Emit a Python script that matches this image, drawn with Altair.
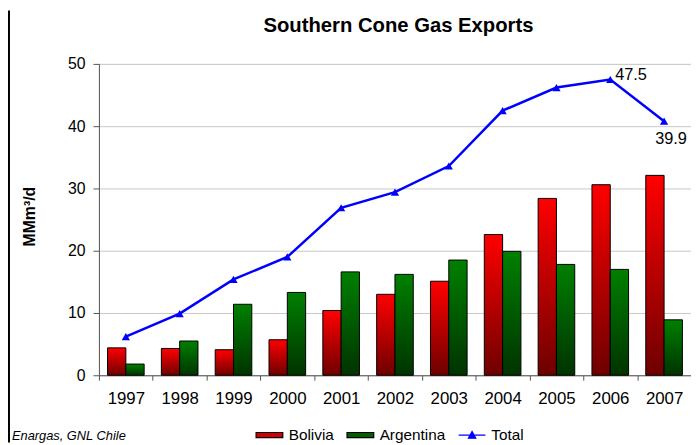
import altair as alt
import pandas as pd

# ---- data ----
years = ["1997", "1998", "1999", "2000", "2001", "2002", "2003", "2004", "2005", "2006", "2007"]
bolivia = [4.4, 4.3, 4.1, 5.7, 10.4, 13.0, 15.1, 22.6, 28.4, 30.6, 32.1]
argentina = [1.8, 5.5, 11.4, 13.3, 16.6, 16.2, 18.5, 19.9, 17.8, 17.0, 8.9]
total = [6.2, 9.9, 15.4, 19.0, 26.9, 29.4, 33.6, 42.5, 46.2, 47.5, 40.8]
series = ["Bolivia", "Argentina", "Total"]
label_years = ["2006", "2007"]
label_values = [47.5, 40.8]
label_texts = ["47.5", "39.9"]
title_text = ["Southern Cone Gas Exports"]
source_note = ["Enargas, GNL Chile"]
y_ticks = [0, 10, 20, 30, 40, 50]

FONT = "Liberation Sans"

bars_df = pd.DataFrame({
    "year": years * 2,
    "series": ["Bolivia"] * len(years) + ["Argentina"] * len(years),
    "value": bolivia + argentina,
})
total_df = pd.DataFrame({"year": years, "value": total})
legend_df = pd.DataFrame({"series": series})

x_enc = alt.X(
    "year:O",
    scale=alt.Scale(domain=years, paddingInner=0, paddingOuter=0),
    axis=alt.Axis(
        title=None, labelAngle=0, tickBand="extent", labelFontSize=17, labelFont=FONT,
        labelColor="black", labelPadding=11, tickSize=5, tickColor="#555555",
        domainColor="#555555", grid=False, labelOverlap=False,
    ),
)
y_enc = alt.Y(
    "value:Q",
    scale=alt.Scale(domain=[0, 50], nice=False),
    axis=alt.Axis(
        title="MMm³/d", values=y_ticks, labelFontSize=16, labelFont=FONT, labelColor="black",
        labelPadding=8, tickSize=6, tickColor="#555555", domainColor="#555555",
        grid=True, gridColor="#c8c8c8", gridWidth=1,
        titleFont=FONT, titleFontSize=16, titleFontWeight="bold", titleColor="black",
        titleAngle=270, titleX=-70, titleY=154, titleAlign="center", titleBaseline="middle",
    ),
)
xoff = alt.XOffset("series:N", scale=alt.Scale(domain=["Bolivia", "Argentina"], paddingOuter=0.47, paddingInner=0))

red_grad = alt.LinearGradient(
    gradient="linear", x1=0, x2=0, y1=0, y2=1,
    stops=[alt.GradientStop(color="#ff0000", offset=0), alt.GradientStop(color="#6e0000", offset=1)],
)
green_grad = alt.LinearGradient(
    gradient="linear", x1=0, x2=0, y1=0, y2=1,
    stops=[alt.GradientStop(color="#008000", offset=0), alt.GradientStop(color="#003300", offset=1)],
)

bol_bars = alt.Chart(bars_df).transform_filter(alt.datum.series == "Bolivia").mark_bar(
    fill=red_grad, stroke="black", strokeWidth=1
).encode(x=x_enc, y=y_enc, xOffset=xoff)

arg_bars = alt.Chart(bars_df).transform_filter(alt.datum.series == "Argentina").mark_bar(
    fill=green_grad, stroke="black", strokeWidth=1
).encode(x=x_enc, y=y_enc, xOffset=xoff)

line = alt.Chart(total_df).mark_line(
    color="#0000ff", strokeWidth=2.5,
    point=alt.OverlayMarkDef(shape="triangle-up", size=70, filled=True, color="#0000ff"),
).encode(x=x_enc, y=y_enc)

ann1 = alt.Chart(pd.DataFrame({"year": [label_years[0]], "value": [label_values[0]], "txt": [label_texts[0]]})).mark_text(
    align="left", baseline="alphabetic", dx=5, dy=1, fontSize=16.5, font=FONT, color="black"
).encode(x=x_enc, y=y_enc, text="txt:N")

ann2 = alt.Chart(pd.DataFrame({"year": [label_years[1]], "value": [label_values[1]], "txt": [label_texts[1]]})).mark_text(
    align="center", baseline="alphabetic", dx=7, dy=23, fontSize=16.5, font=FONT, color="black"
).encode(x=x_enc, y=y_enc, text="txt:N")

rect_path = "M-1,-0.19H1V0.19H-1Z"
line_path = "M-1,0H1M-0.28,0.24L0,-0.27L0.28,0.24Z"
leg = alt.Legend(
    title=None, orient="none", legendX=158, legendY=361, direction="horizontal",
    symbolSize=729, symbolOpacity=1, symbolStrokeWidth=1.2, labelFont=FONT, labelFontSize=15.5,
    labelColor="black", labelOffset=5, columnPadding=10, padding=0,
)
legend_layer = alt.Chart(legend_df).mark_point(filled=True, opacity=0).encode(
    color=alt.Color("series:N", scale=alt.Scale(domain=series, range=["#d00000", "#006000", "#0000ff"]), legend=leg),
    shape=alt.Shape("series:N", scale=alt.Scale(domain=series, range=[rect_path, rect_path, line_path]), legend=leg),
    stroke=alt.Stroke("series:N", scale=alt.Scale(domain=series, range=["black", "black", "#0000ff"]), legend=leg),
)

title = alt.Chart(pd.DataFrame({"t": title_text})).mark_text(
    align="center", baseline="alphabetic", fontSize=20.5, fontWeight="bold", font=FONT, color="black"
).encode(x=alt.value(303), y=alt.value(-32), text="t:N")

source = alt.Chart(pd.DataFrame({"t": source_note})).mark_text(
    align="left", baseline="alphabetic", fontSize=13, fontStyle="italic", font=FONT, color="black"
).encode(x=alt.value(-88), y=alt.value(380), text="t:N")

border = alt.Chart(pd.DataFrame({"t": source_note})).mark_rule(color="black", strokeWidth=2).encode(
    x=alt.value(-91), y=alt.value(-54), y2=alt.value(383)
)

chart = alt.layer(
    bol_bars, arg_bars, line, ann1, ann2, legend_layer, title, source, border
).properties(
    width=599, height=315,
    autosize=alt.AutoSizeParams(type="none"),
    padding={"left": 92, "top": 54, "right": 0, "bottom": 68},
).configure_view(stroke=None).configure(background="white")

chart.save("out.html", embed_options={"renderer": "svg", "actions": False})
